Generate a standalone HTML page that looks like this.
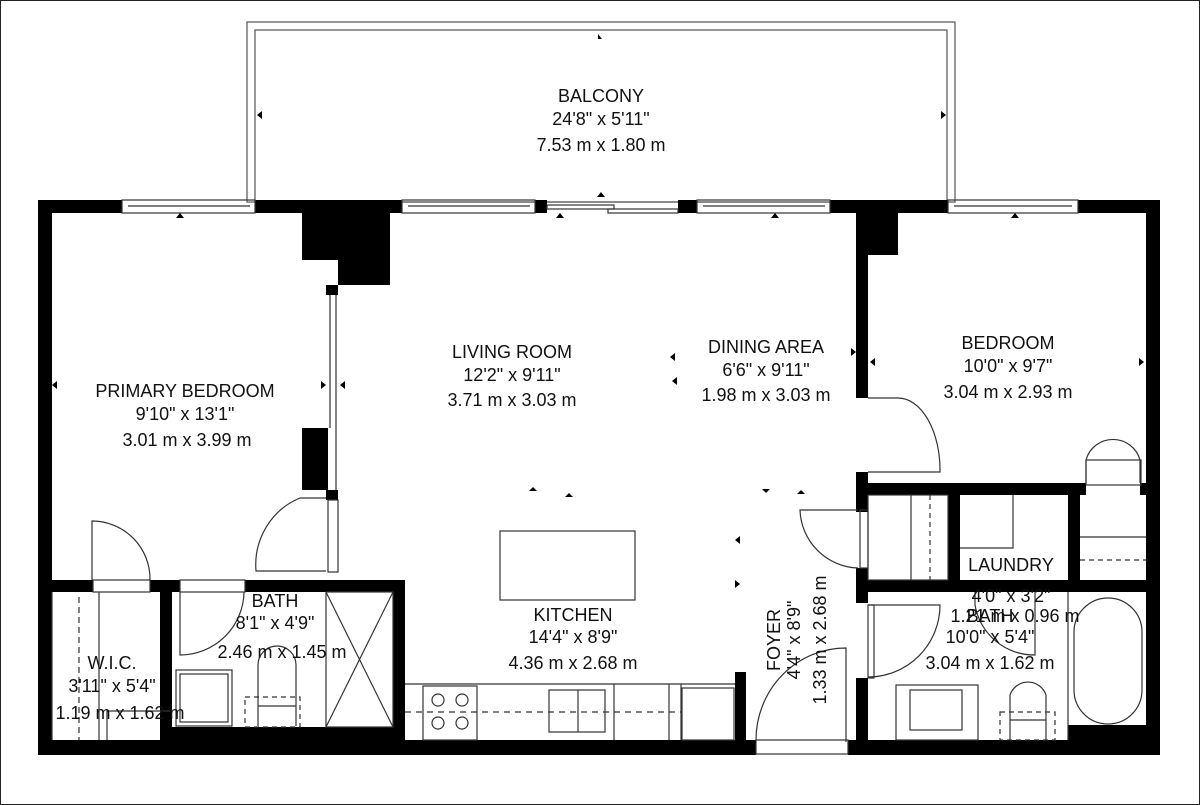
<!DOCTYPE html>
<html><head><meta charset="utf-8"><style>
html,body{margin:0;padding:0;background:#fff;}
svg{display:block}
text{font-family:"Liberation Sans",sans-serif;font-size:18px;fill:#111;text-anchor:middle}
</style></head><body>
<svg width="1200" height="805" viewBox="0 0 1200 805">
<rect x="0.5" y="0.5" width="1199" height="804" fill="#fff" stroke="#222"/>
<rect x="247" y="22" width="708" height="180" fill="none" stroke="#555" stroke-width="1.2"/>
<rect x="255" y="30" width="692" height="172" fill="none" stroke="#555" stroke-width="1.2"/>
<g fill="#000">
<rect x="38" y="200" width="84" height="13"/>
<rect x="255" y="200" width="147" height="13"/>
<rect x="535" y="200" width="12" height="13"/>
<rect x="678" y="200" width="19" height="13"/>
<rect x="830" y="200" width="118" height="13"/>
<rect x="1078" y="200" width="82" height="13"/>
<rect x="38" y="200" width="14" height="555"/>
<rect x="1146" y="200" width="14" height="555"/>
<rect x="38" y="740" width="718" height="15"/>
<rect x="848" y="740" width="312" height="15"/>
<rect x="302" y="213" width="88" height="47"/>
<rect x="338" y="213" width="52" height="72"/>
<rect x="302" y="428" width="26" height="62"/>
<rect x="858" y="213" width="40" height="42"/>
<rect x="326" y="285" width="12" height="10"/>
<rect x="38" y="580" width="55" height="12"/>
<rect x="150" y="580" width="30" height="12"/>
<rect x="245" y="580" width="160" height="12"/>
<rect x="326" y="490" width="12" height="10"/>
<rect x="160" y="580" width="12" height="170"/>
<rect x="393" y="580" width="12" height="170"/>
<rect x="160" y="727" width="245" height="15"/>
<rect x="735" y="672" width="11" height="78"/>
<rect x="856" y="213" width="12" height="185"/>
<rect x="856" y="472" width="12" height="40"/>
<rect x="856" y="568" width="12" height="35"/>
<rect x="856" y="678" width="12" height="70"/>
<rect x="856" y="483" width="230" height="12"/>
<rect x="1140" y="483" width="10" height="12"/>
<rect x="948" y="483" width="12" height="107"/>
<rect x="1068" y="483" width="12" height="107"/>
<rect x="856" y="580" width="290" height="12"/>
<rect x="1068" y="725" width="80" height="20"/>
</g>
<g fill="none" stroke="#333" stroke-width="1.2">
<rect x="122" y="200" width="133" height="13"/><line x1="128" y1="206" x2="250" y2="206"/>
<rect x="402" y="200" width="133" height="13"/><line x1="408" y1="206" x2="530" y2="206"/>
<rect x="697" y="200" width="133" height="13"/><line x1="703" y1="206" x2="825" y2="206"/>
<rect x="948" y="200" width="130" height="13"/><line x1="954" y1="206" x2="1072" y2="206"/>
<rect x="547" y="205" width="67" height="4"/><rect x="608" y="209" width="70" height="4"/>
<line x1="330" y1="295" x2="330" y2="428"/><line x1="336" y1="295" x2="336" y2="490"/>
<rect x="93" y="580" width="57" height="12"/><path d="M92 580 V521 A58 58 0 0 1 150 580"/>
<rect x="180" y="580" width="65" height="12"/><path d="M180 592 V655 A64 64 0 0 0 244 592"/>
<rect x="328" y="500" width="10" height="72"/><path d="M326 498 H300 A70 72 0 0 0 256 571 H326"/>
<line x1="52" y1="592" x2="52" y2="740"/><line x1="79" y1="597" x2="79" y2="740" stroke-dasharray="6 4"/>
<line x1="99" y1="592" x2="99" y2="740"/>
<path d="M107 740 V711 H170"/>
<rect x="326" y="592" width="67" height="135"/><line x1="326" y1="592" x2="393" y2="727"/><line x1="393" y1="592" x2="326" y2="727"/>
<rect x="176" y="670" width="56" height="56"/><rect x="180" y="674" width="48" height="48"/>
<path d="M258 726 V665 A19 19 0 0 1 296 665 V726"/><line x1="258" y1="706" x2="296" y2="706"/>
<rect x="245" y="697" width="55" height="30" stroke-dasharray="5 4"/>
<rect x="500" y="531" width="135" height="69"/>
<line x1="405" y1="684" x2="735" y2="684"/>
<rect x="423" y="686" width="54" height="54"/>
<circle cx="438" cy="700" r="6"/><circle cx="462" cy="700" r="6"/><circle cx="438" cy="723" r="6"/><circle cx="462" cy="723" r="6"/>
<rect x="549" y="690" width="56" height="42"/><line x1="578" y1="690" x2="578" y2="732"/>
<line x1="614" y1="684" x2="614" y2="740"/><line x1="669" y1="684" x2="669" y2="740"/><line x1="681" y1="684" x2="681" y2="740"/>
<rect x="682" y="688" width="52" height="52"/>
<line x1="405" y1="712" x2="682" y2="712" stroke-dasharray="6 5"/>
<rect x="756" y="740" width="92" height="14"/>
<path d="M846 742 V648 A90 92 0 0 0 756 740"/>
<rect x="860" y="510" width="8" height="58"/><path d="M858 510 H800 A60 60 0 0 0 858 568"/>
<path d="M868 398 H898 A42 72 0 0 1 940 472 H868"/>
<rect x="1086" y="460" width="55" height="25"/><path d="M1086 483 V460 A28 28 0 0 1 1140 460 V483"/>
<rect x="868" y="495" width="80" height="85"/><line x1="911" y1="495" x2="911" y2="580"/><line x1="930" y1="495" x2="930" y2="580" stroke-dasharray="5 4"/>
<path d="M960 548 H1013 V495"/>
<line x1="1080" y1="537" x2="1146" y2="537"/><line x1="1080" y1="560" x2="1146" y2="560" stroke-dasharray="5 4"/>
<rect x="868" y="605" width="6" height="73"/><path d="M868 605 H940 A72 72 0 0 1 868 677"/>
<path d="M975 592 V605 A60 60 0 0 0 1035 655 V592"/>
<line x1="1068" y1="592" x2="1068" y2="740"/>
<rect x="1074" y="598" width="68" height="126" rx="34"/>
<rect x="896" y="685" width="82" height="55"/><rect x="910" y="690" width="52" height="40"/>
<path d="M1010 740 V695 A19 19 0 0 1 1046 695 V740"/><line x1="1010" y1="720" x2="1046" y2="720"/>
<rect x="1000" y="712" width="55" height="28" stroke-dasharray="5 4"/>
</g>
<text x="601" y="102">BALCONY</text><text x="601" y="125">24'8" x 5'11"</text><text x="601" y="151">7.53 m x 1.80 m</text>
<text x="185" y="397">PRIMARY BEDROOM</text><text x="185" y="420">9'10" x 13'1"</text><text x="187" y="446">3.01 m x 3.99 m</text>
<text x="512" y="358">LIVING ROOM</text><text x="512" y="381">12'2" x 9'11"</text><text x="512" y="406">3.71 m x 3.03 m</text>
<text x="766" y="353">DINING AREA</text><text x="766" y="376">6'6" x 9'11"</text><text x="766" y="401">1.98 m x 3.03 m</text>
<text x="1008" y="349">BEDROOM</text><text x="1008" y="372">10'0" x 9'7"</text><text x="1008" y="398">3.04 m x 2.93 m</text>
<text x="573" y="621">KITCHEN</text><text x="573" y="643">14'4" x 8'9"</text><text x="573" y="669">4.36 m x 2.68 m</text>
<text x="275" y="607">BATH</text><text x="275" y="629">8'1" x 4'9"</text><text x="282" y="658">2.46 m x 1.45 m</text>
<text x="112" y="669">W.I.C.</text><text x="112" y="692">3'11" x 5'4"</text><text x="120" y="719">1.19 m x 1.62 m</text>
<text x="1011" y="571">LAUNDRY</text><text x="1011" y="602">4'0" x 3'2"</text><text x="1015" y="622">1.21 m x 0.96 m</text>
<text x="990" y="622">BATH</text><text x="990" y="643">10'0" x 5'4"</text><text x="990" y="669">3.04 m x 1.62 m</text>
<text transform="translate(780,640) rotate(-90)">FOYER</text>
<text transform="translate(800,640) rotate(-90)">4'4" x 8'9"</text>
<text transform="translate(826,640) rotate(-90)">1.33 m x 2.68 m</text>
<g fill="#000">
<path d="M598 34 l4 5 l-4 0z M597 197 l8 0 l-4 -5z"/>
<path d="M257 115 l5 -4 v8z M946 115 l-5 -4 v8z"/>
<path d="M180 213 l-4 5 h8z M560 213 l-4 5 h8z M775 213 l-4 5 h8z M1015 213 l-4 5 h8z"/>
<path d="M52 385 l5 -4 v8z M326 385 l-5 -4 v8z M340 385 l5 -4 v8z M670 357 l5 -4 v8z M856 352 l-5 -4 v8z M870 362 l5 -4 v8z M1144 362 l-5 -4 v8z"/>
<path d="M529 491 h8 l-4 -4z M565 497 h8 l-4 -4z M762 489 h8 l-4 4z M797 494 h8 l-4 -4z M672 381 l5 -4 v8z M735 540 l5 -4 v8z M740 584 l-5 -4 v8z"/>
</g>
</svg>
</body></html>
